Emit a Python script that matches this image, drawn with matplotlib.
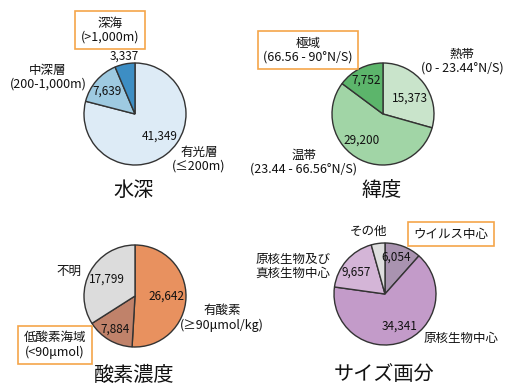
import matplotlib.pyplot as plt

plt.rcParams['font.family'] = ['Noto Sans CJK JP', 'DejaVu Sans']

# data
depth_vals = [41349, 7639, 3337]
depth_cols = ['#ddebf6', '#9ecae1', '#3d8ec4']

lat_vals = [15373, 29200, 7752]
lat_cols = ['#c9e4cb', '#a1d5a6', '#5cb56b']

oxy_vals = [26642, 7884, 17799]
oxy_cols = ['#e8915f', '#c0826a', '#dcdcdc']

size_vals = [6054, 34341, 9657, 2273]
size_cols = ['#a993b0', '#c39bc9', '#d4b5d7', '#dedede']

W, H = 517, 392
fig = plt.figure(figsize=(W / 100, H / 100), dpi=100)
ax = fig.add_axes([0, 0, 1, 1])

R = 51


def pie(vals, cols, cx, cy):
    ax.pie(vals, colors=cols, startangle=90, counterclock=False,
           center=(cx, H - cy), radius=R,
           wedgeprops=dict(edgecolor='#333333', linewidth=1.0))


def txt(x, y, s, size=9, box=False):
    kw = {}
    if box:
        kw['bbox'] = dict(boxstyle='square,pad=0.45', facecolor='white',
                          edgecolor='#f5a54a', linewidth=1.2)
    ax.text(x, H - y, s, ha='center', va='center', fontsize=size,
            linespacing=1.1, color='#111111', **kw)


def num(x, y, v):
    txt(x, y, f'{v:,}', size=8.5)


# 水深
pie(depth_vals, depth_cols, 135, 114)
num(160, 136, depth_vals[0])
num(107, 91, depth_vals[1])
num(124, 56, depth_vals[2])
txt(110, 30, '深海\n(>1,000m)', box=True)
txt(48, 77, '中深層\n(200-1,000m)')
txt(199, 159, '有光層\n(≤200m)')
txt(134, 190, '水深', size=14.5)

# 緯度
pie(lat_vals, lat_cols, 383, 114)
num(410, 98, lat_vals[0])
num(362, 140, lat_vals[1])
num(366, 80, lat_vals[2])
txt(308, 50, '極域\n(66.56 - 90°N/S)', box=True)
txt(462, 61, '熱帯\n(0 - 23.44°N/S)')
txt(304, 162, '温帯\n(23.44 - 66.56°N/S)')
txt(382, 190, '緯度', size=14.5)

# 酸素濃度
pie(oxy_vals, oxy_cols, 135, 296)
num(166, 296, oxy_vals[0])
num(115, 329, oxy_vals[1])
num(107, 279, oxy_vals[2])
txt(69, 271, '不明')
txt(222, 318, '有酸素\n(≥90μmol/kg)')
txt(55, 345, '低酸素海域\n(<90μmol)', box=True)
txt(134, 375, '酸素濃度', size=14.5)

# サイズ画分
pie(size_vals, size_cols, 385, 294)
num(396, 257, size_vals[0])
num(400, 326, size_vals[1])
num(356, 272, size_vals[2])
txt(368, 231, 'その他')
txt(451, 234, 'ウイルス中心', box=True)
txt(293, 266, '原核生物及び\n真核生物中心')
txt(461, 338, '原核生物中心')
txt(384, 375, 'サイズ画分', size=14.5)

ax.set_xlim(0, W)
ax.set_ylim(0, H)
ax.set_aspect('equal')
ax.axis('off')

fig.savefig('out.png', dpi=100)
